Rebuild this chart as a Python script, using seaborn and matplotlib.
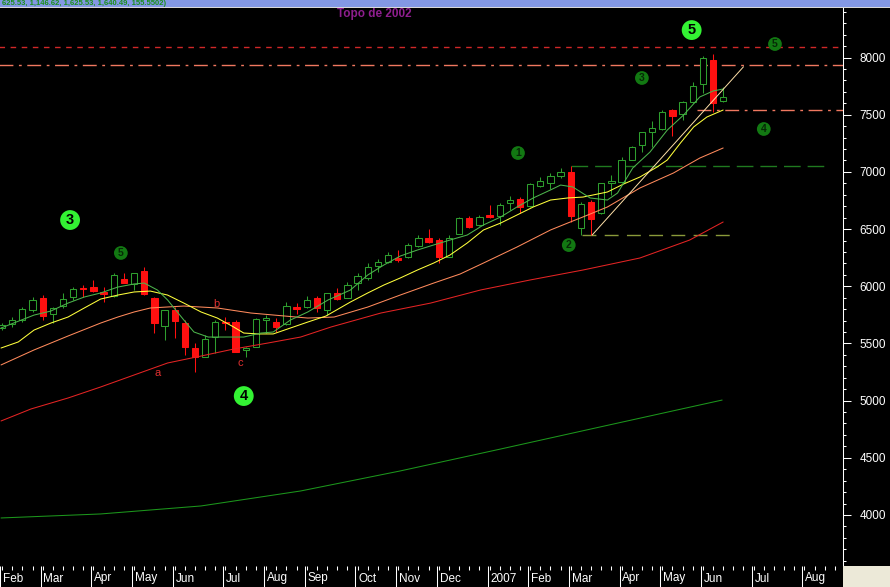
import numpy as np
import pandas as pd
import matplotlib
matplotlib.use("Agg")
import matplotlib.pyplot as plt
import seaborn as sns
from matplotlib.patches import Rectangle
from matplotlib.ticker import MultipleLocator

# ==============================================================================
#                      Daten (woechentliche Kerzen Feb 2006 - Jun 2007)
# ==============================================================================
opens = [5635, 5670, 5705, 5792, 5897, 5757, 5827, 5906, 5985, 5993, 5950, 5915,
         6063, 6020, 6133, 5897, 5652, 5792, 5678, 5460, 5381, 5556, 5687, 5687,
         5443, 5469, 5705, 5687, 5670, 5818, 5818, 5897, 5792, 5941, 5897, 6028,
         6072, 6177, 6212, 6247, 6256, 6352, 6422, 6404, 6256, 6457, 6597, 6536,
         6623, 6614, 6728, 6763, 6702, 6877, 6903, 6964, 6999, 6509, 6737, 6640,
         6903, 6912, 7104, 7235, 7349, 7375, 7541, 7506, 7611, 7768, 7978, 7619]
highs = [5678, 5731, 5818, 5906, 5923, 5818, 5941, 5993, 6011, 6055, 5993, 6116,
         6116, 6116, 6168, 5906, 5792, 5818, 5705, 5504, 5574, 5705, 5731, 5705,
         5469, 5722, 5748, 5722, 5862, 5853, 5915, 5915, 5941, 5985, 6037, 6116,
         6203, 6238, 6299, 6317, 6378, 6448, 6501, 6422, 6448, 6606, 6614, 6623,
         6710, 6728, 6789, 6780, 6903, 6955, 6990, 7034, 7051, 6737, 6754, 6903,
         6973, 7130, 7226, 7349, 7445, 7541, 7550, 7619, 7786, 8013, 8031, 7742]
lows = [5617, 5644, 5687, 5775, 5705, 5678, 5810, 5880, 5906, 5950, 5862, 5906,
        6028, 5967, 5923, 5591, 5530, 5547, 5399, 5250, 5381, 5416, 5617, 5425,
        5381, 5469, 5591, 5600, 5661, 5757, 5810, 5775, 5748, 5880, 5897, 5967,
        6055, 6125, 6203, 6212, 6247, 6343, 6378, 6203, 6256, 6457, 6509, 6527,
        6597, 6536, 6667, 6640, 6693, 6868, 6850, 6946, 6562, 6448, 6448, 6632,
        6798, 6903, 7104, 7174, 7217, 7366, 7314, 7453, 7602, 7690, 7523, 7611]
closes = [5661, 5705, 5801, 5880, 5740, 5810, 5888, 5976, 5976, 5958, 5932, 6098,
          6028, 6116, 5932, 5678, 5792, 5696, 5469, 5381, 5539, 5687, 5678, 5425,
          5460, 5713, 5722, 5644, 5827, 5801, 5880, 5810, 5941, 5888, 6011, 6090,
          6168, 6212, 6273, 6230, 6361, 6422, 6387, 6256, 6422, 6597, 6518, 6606,
          6606, 6710, 6754, 6693, 6894, 6920, 6964, 6999, 6614, 6719, 6588, 6903,
          6920, 7104, 7217, 7349, 7384, 7523, 7488, 7611, 7751, 7995, 7602, 7655]

# Monatsanfaenge (Wochenindex) und Beschriftung
month_weeks = [0, 4, 9, 13, 17, 22, 26, 30, 35, 39, 43, 48, 52, 56, 61, 65, 69, 74, 79]
month_labels = ['Feb', 'Mar', 'Apr', 'May', 'Jun', 'Jul', 'Aug', 'Sep', 'Oct', 'Nov',
                'Dec', '2007', 'Feb', 'Mar', 'Apr', 'May', 'Jun', 'Jul', 'Aug']

# Gleitende Durchschnitte (Woche, Wert)
ma_fast_w = [-0.1, 3.15, 4.8, 6.5, 8.1, 9.7, 11.4, 13.0, 14.0, 15.3, 16.3, 17.9, 18.9, 20.3,
             22.2, 23.8, 25.5, 26.7, 28.4, 30.1, 32.1, 34.3, 36.0, 37.6, 39.2, 40.9, 42.5,
             44.1, 45.8, 47.4, 49.1, 50.7, 52.3, 54.0, 55.0, 56.2, 57.9, 59.6, 60.6, 62.1,
             63.8, 65.5, 67.1, 68.7, 70.0, 71.0]
ma_fast_v = [5635, 5748, 5783, 5853, 5906, 5941, 5993, 6020, 6028, 5967, 5880, 5705, 5600, 5556,
             5556, 5556, 5591, 5600, 5705, 5775, 5880, 5967, 6098, 6186, 6264, 6317, 6361,
             6404, 6448, 6536, 6606, 6693, 6772, 6842, 6885, 6868, 6772, 6754, 6815, 7034,
             7174, 7366, 7497, 7655, 7707, 7725]
ma_mid_w = [-0.1, 1.6, 3.15, 4.8, 6.5, 8.1, 9.7, 11.4, 13.0, 14.6, 16.3, 17.9, 19.6, 21.2,
            22.8, 23.8, 25.2, 26.7, 28.4, 30.1, 31.9, 34.3, 36.0, 37.6, 39.2, 40.9, 42.5,
            44.1, 45.8, 47.4, 49.1, 50.7, 52.3, 54.0, 55.7, 57.2, 59.6, 61.2, 62.8, 64.5,
            65.5, 66.8, 68.1, 69.4, 71.0]
ma_mid_v = [5460, 5513, 5617, 5678, 5731, 5810, 5888, 5923, 5950, 5958, 5923, 5853, 5775, 5722,
            5644, 5591, 5583, 5583, 5635, 5687, 5740, 5862, 5941, 6011, 6072, 6142, 6203,
            6273, 6378, 6492, 6553, 6623, 6693, 6754, 6772, 6780, 6824, 6894, 6955, 7043,
            7104, 7253, 7393, 7480, 7541]
ma_slow_w = [-0.1, 3.15, 6.5, 9.7, 11.4, 13.0, 14.6, 17.9, 21.2, 24.5, 27.8, 30.1, 32.7,
             36.0, 39.2, 42.5, 45.1, 47.4, 50.7, 54.0, 55.7, 57.2, 59.6, 62.8, 66.1, 68.7, 71.0]
ma_slow_v = [5312, 5443, 5565, 5678, 5731, 5775, 5810, 5827, 5810, 5766, 5740, 5722, 5731,
             5818, 5923, 6028, 6107, 6203, 6343, 6492, 6553, 6606, 6693, 6859, 6990, 7121, 7209]
ma_40_w = [-0.1, 2.85, 6.5, 9.7, 13.0, 16.3, 19.6, 22.8, 26.2, 29.4, 32.4, 37.3, 42.2,
           47.1, 52.0, 57.2, 62.8, 67.7, 71.0]
ma_40_v = [4822, 4927, 5023, 5119, 5224, 5329, 5390, 5451, 5504, 5556, 5644, 5766, 5853,
           5967, 6055, 6142, 6247, 6404, 6562]
ma_long_w = [-0.1, 9.7, 19.6, 29.4, 39.2, 49.1, 58.9, 68.7, 70.9]
ma_long_v = [3974, 4009, 4079, 4210, 4385, 4577, 4770, 4962, 5005]

# Trendlinie und horizontale Marken
trend_w = [58.1, 73.0]
trend_v = [6448, 7919]
topo_2002 = 8092
resist_1 = 7934
support_1 = 7541
support_2 = 7051
support_3 = 6448

# ==============================================================================
#                               Layout & Stil
# ==============================================================================
sns.set_style("dark", {"axes.facecolor": "black", "figure.facecolor": "black"})
plt.rcParams['font.family'] = ['Liberation Sans', 'DejaVu Sans']

W, H = 890, 587
fig = plt.figure(figsize=(W / 100, H / 100), dpi=100)
fig.patch.set_facecolor('black')
ax = fig.add_axes([0, 21 / H, 843 / W, 558 / H])
ax.set_facecolor('black')
ax.grid(False)

green = '#2e9e2e'
red = '#ff1010'
thin = 0.75

# Kerzen
df = pd.DataFrame({'open': opens, 'high': highs, 'low': lows, 'close': closes})
df['week'] = np.arange(len(df))
df['up'] = df['close'] >= df['open']
for _, r in df.iterrows():
    col = green if r['up'] else red
    ax.vlines(r['week'], r['low'], r['high'], color=col, lw=thin, zorder=3)
    body = max(abs(r['close'] - r['open']), 6)
    ax.bar(r['week'], body, bottom=min(r['open'], r['close']), width=0.62,
           facecolor='black' if r['up'] else red, edgecolor=col, lw=thin, zorder=4)

# Gleitende Durchschnitte
sns.lineplot(x=ma_long_w, y=ma_long_v, ax=ax, color='#1c961c', lw=thin, zorder=5)
sns.lineplot(x=ma_40_w, y=ma_40_v, ax=ax, color='#e42424', lw=thin, zorder=5)
sns.lineplot(x=ma_slow_w, y=ma_slow_v, ax=ax, color='#ff8a5c', lw=thin, zorder=5)
sns.lineplot(x=ma_mid_w, y=ma_mid_v, ax=ax, color='#ffff3c', lw=thin, zorder=5)
sns.lineplot(x=ma_fast_w, y=ma_fast_v, ax=ax, color='#4cb44c', lw=thin, zorder=5)
sns.lineplot(x=trend_w, y=trend_v, ax=ax, color='#ffe0a8', lw=0.7, zorder=5)

# Horizontale Linien
ax.hlines(topo_2002, -1, 90, color='#d02828', lw=1, linestyles=(0, (4, 4)), zorder=2)
ax.hlines(resist_1, -1, 90, color='#f07860', lw=1, linestyles=(0, (10, 4, 2, 4)), zorder=2)
ax.hlines(support_1, 68.4, 90, color='#f07860', lw=1, linestyles=(0, (10, 4, 2, 4)), zorder=2)
ax.hlines(support_2, 56.0, 81.1, color='#1f7a1f', lw=1, linestyles=(0, (12, 5)), zorder=2)
ax.hlines(support_3, 57.1, 72.1, color='#8a9a3a', lw=1, linestyles=(0, (10, 6)), zorder=2)

# Beschriftungen (Elliott-Wellen)
big = dict(boxstyle='circle,pad=0.2', fc='#33f233', ec='none')
small = dict(boxstyle='circle,pad=0.18', fc='#127812', ec='none')
for x, y, t in [(6.7, 6579, '3'), (23.8, 5040, '4'), (67.9, 8240, '5')]:
    ax.text(x, y, t, ha='center', va='center', fontsize=10.5, fontweight='bold',
            color='black', bbox=big, zorder=7)
for x, y, t in [(11.7, 6291, '5'), (50.8, 7165, '1'), (55.8, 6360, '2'),
                (63.0, 7821, '3'), (75.0, 7375, '4'), (76.1, 8118, '5')]:
    ax.text(x, y, t, ha='center', va='center', fontsize=7.5, fontweight='bold',
            color='#062806', bbox=small, zorder=7)
for x, y, t in [(15.3, 5242, 'a'), (21.1, 5845, 'b'), (23.5, 5329, 'c')]:
    ax.text(x, y, t, ha='center', va='center', fontsize=8, color='#e03030', zorder=7)
ax.text(36.7, 8380, 'Topo de 2002', ha='center', va='center', fontsize=8.5,
        fontweight='bold', color='#8e1e8e', zorder=7)

# Achsen
ax.set_xlim(-0.1, 82.8)
ax.set_ylim(3554, 8433)
ax.yaxis.tick_right()
ax.set_yticks(range(4000, 8001, 500))
ax.yaxis.set_minor_locator(MultipleLocator(100))
ax.tick_params(axis='y', which='major', right=True, left=False, colors='white',
               length=6, width=thin, pad=6, labelsize=8.5, direction='out')
ax.tick_params(axis='y', which='minor', right=True, left=False, colors='white',
               length=2.5, width=thin, direction='out')
ax.set_xticks([m - 0.2 for m in month_weeks])
ax.set_xticks(np.arange(0, 83), minor=True)
ax.tick_params(axis='x', which='major', bottom=True, colors='white', length=15,
               width=thin, direction='out', labelbottom=False)
ax.tick_params(axis='x', which='minor', bottom=True, colors='white', length=3,
               width=thin, direction='out')
for m, lab in zip(month_weeks, month_labels):
    ax.annotate(lab, xy=(m - 0.2, 0), xycoords=ax.get_xaxis_transform(),
                xytext=(2, -9), textcoords='offset points', ha='left', va='center',
                color='white', fontsize=8.5, annotation_clip=False)
for s in ['left', 'top', 'bottom']:
    ax.spines[s].set_visible(False)
ax.spines['right'].set_color('white')
ax.spines['right'].set_linewidth(thin)
ax.set_xlabel('')
ax.set_ylabel('')

# Fensterleiste oben und Ecke unten rechts
fig.patches.append(Rectangle((0, (H - 7) / H), 1, 7 / H, transform=fig.transFigure,
                             facecolor='#8398e4', edgecolor='none', zorder=0))
fig.patches.append(Rectangle((0, (H - 8) / H), 1, 1 / H, transform=fig.transFigure,
                             facecolor='#d8d8d8', edgecolor='none', zorder=0))
fig.patches.append(Rectangle((843 / W, 0), 47 / W, 21 / H, transform=fig.transFigure,
                             facecolor='#ece9d8', edgecolor='none', zorder=0))
fig.text(0.002, (H - 3.6) / H, '625.53, 1,146.62, 1,625.53, 1,640.49, 155.5502)',
         color='#1a8f1a', fontsize=5.5, fontweight='bold', va='center', ha='left')

fig.savefig('out.png', dpi=100, facecolor='black')
